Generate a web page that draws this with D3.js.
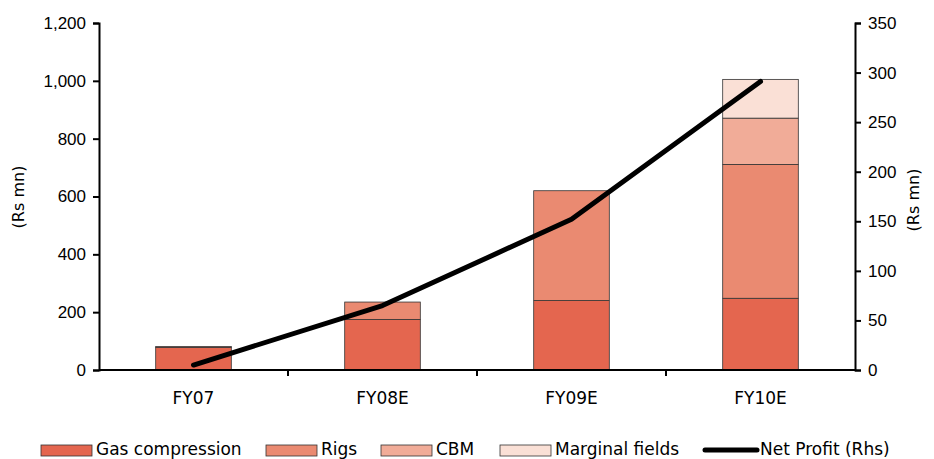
<!DOCTYPE html>
<html>
<head>
<meta charset="utf-8">
<script src="https://cdn.jsdelivr.net/npm/d3@7"></script>
<style>
  html, body { margin: 0; padding: 0; background: #fff; }
  svg { display: block; font-family: "DejaVu Sans", sans-serif; }
</style>
</head>
<body>
<svg id="chart" width="934" height="459"></svg>
<script>
// Revenue mix by business line (Rs mn) and net profit (Rs mn, right axis)
const categories = ["FY07", "FY08E", "FY09E", "FY10E"];
const seriesNames = ["Gas compression", "Rigs", "CBM", "Marginal fields"];
const gasCompression = [78, 175, 240, 248];
const rigs = [3, 60, 380, 463];
const cbm = [0, 0, 0, 160];
const marginalFields = [0, 0, 0, 134];
const netProfit = [5, 65, 152, 291];
const leftTicks = [0, 200, 400, 600, 800, 1000, 1200];
const rightTicks = [0, 50, 100, 150, 200, 250, 300, 350];
const colors = ["#E4664F", "#EA8A71", "#F1AC98", "#FAE0D6"];

const svg = d3.select("#chart");
const m = { left: 99, right: 79, top: 23, bottom: 89 };
const W = 934, H = 459;
const x0 = m.left, x1 = W - m.right, y0 = H - m.bottom, y1 = m.top;

const x = d3.scaleBand().domain(categories).range([x0, x1]).paddingInner(0.6).paddingOuter(0.3);
const yL = d3.scaleLinear().domain([0, 1200]).range([y0, y1]);
const yR = d3.scaleLinear().domain([0, 350]).range([y0, y1]);

// stacked bars
const rows = categories.map((c, i) => ({
  cat: c,
  "Gas compression": gasCompression[i],
  "Rigs": rigs[i],
  "CBM": cbm[i],
  "Marginal fields": marginalFields[i]
}));
const stacked = d3.stack().keys(seriesNames)(rows);

svg.append("g").selectAll("g").data(stacked).join("g")
  .attr("fill", (d, i) => colors[i])
  .selectAll("rect").data(d => d.filter(p => p[1] > p[0])).join("rect")
  .attr("x", d => x(d.data.cat))
  .attr("width", x.bandwidth())
  .attr("y", d => yL(d[1]))
  .attr("height", d => yL(d[0]) - yL(d[1]))
  .attr("stroke", "#333")
  .attr("stroke-width", 0.8);

// net profit line
const line = d3.line()
  .x((d, i) => x(categories[i]) + x.bandwidth() / 2)
  .y(d => yR(d));
svg.append("path").datum(netProfit)
  .attr("d", line)
  .attr("fill", "none")
  .attr("stroke", "#000")
  .attr("stroke-width", 5)
  .attr("stroke-linejoin", "round")
  .attr("stroke-linecap", "round");

// axes
const axisFont = g => g.selectAll("text").attr("font-size", 17).attr("fill", "#000");
const axisLine = g => {
  g.select(".domain").attr("stroke", "#000").attr("stroke-width", 2);
  g.selectAll(".tick line").attr("stroke", "#000").attr("stroke-width", 2);
};

svg.append("g").attr("transform", `translate(${x0},0)`)
  .call(d3.axisLeft(yL).tickValues(leftTicks).tickSize(6).tickSizeOuter(6).tickPadding(7)
    .tickFormat(d3.format(",")))
  .call(axisFont).call(axisLine);

svg.append("g").attr("transform", `translate(${x1},0)`)
  .call(d3.axisRight(yR).tickValues(rightTicks).tickSize(6).tickSizeOuter(6).tickPadding(7))
  .call(axisFont).call(axisLine);

// category axis: ticks sit between categories
const xg = svg.append("g").attr("transform", `translate(0,${y0})`);
xg.append("line").attr("x1", x0).attr("x2", x1).attr("stroke", "#000").attr("stroke-width", 2);
const step = x.step();
d3.range(1, categories.length).forEach(k => {
  const xb = x0 + step * k;
  xg.append("line").attr("x1", xb).attr("x2", xb).attr("y1", 0).attr("y2", 6)
    .attr("stroke", "#000").attr("stroke-width", 2);
});
xg.selectAll("text.cat").data(categories).join("text")
  .attr("class", "cat")
  .attr("x", d => x(d) + x.bandwidth() / 2)
  .attr("y", 34)
  .attr("text-anchor", "middle")
  .attr("font-size", 17)
  .text(d => d);

// axis titles
svg.append("text").attr("transform", `translate(24,197) rotate(-90)`)
  .attr("text-anchor", "middle").attr("font-size", 16).text("(Rs mn)");
svg.append("text").attr("transform", `translate(919,200) rotate(-90)`)
  .attr("text-anchor", "middle").attr("font-size", 16).text("(Rs mn)");

// legend
const legendItems = [
  { name: "Gas compression", swatchX: 41, type: "rect", color: colors[0] },
  { name: "Rigs", swatchX: 266, type: "rect", color: colors[1] },
  { name: "CBM", swatchX: 381, type: "rect", color: colors[2] },
  { name: "Marginal fields", swatchX: 500, type: "rect", color: colors[3] },
  { name: "Net Profit (Rhs)", swatchX: 705, type: "line", color: "#000" }
];
const lg = svg.append("g");
legendItems.forEach(it => {
  if (it.type === "rect") {
    lg.append("rect").attr("x", it.swatchX).attr("y", 445).attr("width", 51).attr("height", 11)
      .attr("fill", it.color).attr("stroke", "#333").attr("stroke-width", 0.8);
  } else {
    lg.append("line").attr("x1", it.swatchX).attr("x2", it.swatchX + 52)
      .attr("y1", 450).attr("y2", 450).attr("stroke", "#000").attr("stroke-width", 5)
      .attr("stroke-linecap", "round");
  }
  lg.append("text").attr("x", it.swatchX + 55).attr("y", 455)
    .attr("font-size", 17).text(it.name);
});
</script>
</body>
</html>
